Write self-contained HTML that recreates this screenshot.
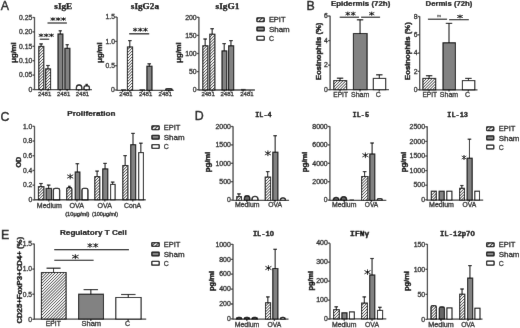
<!DOCTYPE html>
<html><head><meta charset="utf-8"><style>
html,body{margin:0;padding:0;background:#fff;}
body{width:520px;height:328px;overflow:hidden;}
svg{display:block;will-change:transform;}
</style></head><body>
<svg xmlns="http://www.w3.org/2000/svg" width="520" height="328" viewBox="0 0 520 328">
<defs>
<pattern id="hatch" patternUnits="userSpaceOnUse" width="2.05" height="2.05" patternTransform="rotate(45)">
<rect width="2.05" height="2.05" fill="#fbfbfb"/><rect x="0" y="0" width="0.7" height="2.05" fill="#262626"/>
</pattern>
<pattern id="hatchL" patternUnits="userSpaceOnUse" width="2.6" height="2.6" patternTransform="rotate(45)">
<rect width="2.6" height="2.6" fill="#fff"/><rect x="0" y="0" width="1.1" height="2.6" fill="#333"/>
</pattern>
</defs>
<filter id="soft" x="0" y="0" width="520" height="328" filterUnits="userSpaceOnUse"><feConvolveMatrix order="3" kernelMatrix="0.00276 0.04704 0.00276 0.04704 0.80077 0.04704 0.00276 0.04704 0.00276" edgeMode="duplicate" preserveAlpha="true"/></filter>
<rect width="520" height="328" fill="#fff"/>
<g filter="url(#soft)">
<rect width="520" height="328" fill="#fff"/>
<text x="0.8" y="10.1" font-size="12.4" text-anchor="start" font-weight="normal" font-family='"Liberation Sans", sans-serif' fill="#111" stroke="#111" stroke-width="0.35">A</text>
<text x="306.5" y="10.1" font-size="12.4" text-anchor="start" font-weight="normal" font-family='"Liberation Sans", sans-serif' fill="#111" stroke="#111" stroke-width="0.35">B</text>
<text x="0.6" y="120.6" font-size="12.4" text-anchor="start" font-weight="normal" font-family='"Liberation Sans", sans-serif' fill="#111" stroke="#111" stroke-width="0.35">C</text>
<text x="194.8" y="120.2" font-size="12.4" text-anchor="start" font-weight="normal" font-family='"Liberation Sans", sans-serif' fill="#111" stroke="#111" stroke-width="0.35">D</text>
<text x="1.0" y="238.8" font-size="12.4" text-anchor="start" font-weight="normal" font-family='"Liberation Sans", sans-serif' fill="#111" stroke="#111" stroke-width="0.35">E</text>
<line x1="34.5" y1="90.14999999999999" x2="34.5" y2="17.1" stroke="#404040" stroke-width="1.3"/>
<line x1="32.5" y1="89.5" x2="34.5" y2="89.5" stroke="#404040" stroke-width="1.3"/>
<text x="32.3" y="91.768" font-size="6.3" text-anchor="end" font-weight="normal" font-family='"Liberation Sans", sans-serif' fill="#262626" stroke="#262626" stroke-width="0.3" textLength="3.85" lengthAdjust="spacingAndGlyphs">0</text>
<line x1="32.5" y1="75.1" x2="34.5" y2="75.1" stroke="#404040" stroke-width="1.3"/>
<text x="32.3" y="77.368" font-size="6.3" text-anchor="end" font-weight="normal" font-family='"Liberation Sans", sans-serif' fill="#262626" stroke="#262626" stroke-width="0.3" textLength="13.25" lengthAdjust="spacingAndGlyphs">0.05</text>
<line x1="32.5" y1="60.7" x2="34.5" y2="60.7" stroke="#404040" stroke-width="1.3"/>
<text x="32.3" y="62.968" font-size="6.3" text-anchor="end" font-weight="normal" font-family='"Liberation Sans", sans-serif' fill="#262626" stroke="#262626" stroke-width="0.3" textLength="13.25" lengthAdjust="spacingAndGlyphs">0.10</text>
<line x1="32.5" y1="46.3" x2="34.5" y2="46.3" stroke="#404040" stroke-width="1.3"/>
<text x="32.3" y="48.568" font-size="6.3" text-anchor="end" font-weight="normal" font-family='"Liberation Sans", sans-serif' fill="#262626" stroke="#262626" stroke-width="0.3" textLength="13.25" lengthAdjust="spacingAndGlyphs">0.15</text>
<line x1="32.5" y1="31.9" x2="34.5" y2="31.9" stroke="#404040" stroke-width="1.3"/>
<text x="32.3" y="34.168" font-size="6.3" text-anchor="end" font-weight="normal" font-family='"Liberation Sans", sans-serif' fill="#262626" stroke="#262626" stroke-width="0.3" textLength="13.25" lengthAdjust="spacingAndGlyphs">0.20</text>
<line x1="32.5" y1="17.5" x2="34.5" y2="17.5" stroke="#404040" stroke-width="1.3"/>
<text x="32.3" y="19.768" font-size="6.3" text-anchor="end" font-weight="normal" font-family='"Liberation Sans", sans-serif' fill="#262626" stroke="#262626" stroke-width="0.3" textLength="13.25" lengthAdjust="spacingAndGlyphs">0.25</text>
<line x1="34.5" y1="89.55" x2="92" y2="89.55" stroke="#404040" stroke-width="1.3"/>
<line x1="41.1" y1="89.55" x2="41.1" y2="91.35" stroke="#404040" stroke-width="1.3"/>
<line x1="47.95" y1="89.55" x2="47.95" y2="91.35" stroke="#404040" stroke-width="1.3"/>
<line x1="60.15" y1="89.55" x2="60.15" y2="91.35" stroke="#404040" stroke-width="1.3"/>
<line x1="67.15" y1="89.55" x2="67.15" y2="91.35" stroke="#404040" stroke-width="1.3"/>
<line x1="78.65" y1="89.55" x2="78.65" y2="91.35" stroke="#404040" stroke-width="1.3"/>
<line x1="86.15" y1="89.55" x2="86.15" y2="91.35" stroke="#404040" stroke-width="1.3"/>
<line x1="41.099999999999994" y1="46.4" x2="41.099999999999994" y2="43.9" stroke="#000" stroke-width="1.0"/>
<line x1="39.3" y1="43.9" x2="42.89999999999999" y2="43.9" stroke="#000" stroke-width="1.15"/>
<rect x="38.8" y="46.4" width="5.00" height="43.15" fill="url(#hatch)" stroke="#000" stroke-width="1.05"/>
<line x1="47.95" y1="68.9" x2="47.95" y2="65.5" stroke="#000" stroke-width="1.0"/>
<line x1="46.150000000000006" y1="65.5" x2="49.75" y2="65.5" stroke="#000" stroke-width="1.15"/>
<rect x="45.699999999999996" y="68.9" width="4.90" height="20.65" fill="url(#hatch)" stroke="#000" stroke-width="1.05"/>
<line x1="60.25" y1="34.0" x2="60.25" y2="30.8" stroke="#000" stroke-width="1.0"/>
<line x1="58.65" y1="30.8" x2="61.85" y2="30.8" stroke="#000" stroke-width="1.15"/>
<rect x="58.0" y="34.0" width="4.90" height="55.55" fill="#828282" stroke="#000" stroke-width="1.05"/>
<line x1="67.2" y1="48.3" x2="67.2" y2="44.7" stroke="#000" stroke-width="1.0"/>
<line x1="65.60000000000001" y1="44.7" x2="68.8" y2="44.7" stroke="#000" stroke-width="1.15"/>
<rect x="64.9" y="48.3" width="5.00" height="41.25" fill="#828282" stroke="#000" stroke-width="1.05"/>
<path d="M76.40 89.55V87.70Q76.40 85.00 79.10 85.00H79.10Q81.80 85.00 81.80 87.70V89.55Z" fill="#ffffff" stroke="#000" stroke-width="1.3"/>
<line x1="86.7" y1="86.0" x2="86.7" y2="84.4" stroke="#000" stroke-width="1.0"/>
<line x1="85.5" y1="84.4" x2="87.9" y2="84.4" stroke="#000" stroke-width="1.15"/>
<path d="M84.00 89.55V87.52Q84.00 85.90 85.62 85.90H87.78Q89.40 85.90 89.40 87.52V89.55Z" fill="#ffffff" stroke="#000" stroke-width="1.3"/>
<text x="44.6" y="96.4" font-size="6.2" text-anchor="middle" font-weight="normal" font-family='"Liberation Sans", sans-serif' fill="#262626" stroke="#262626" stroke-width="0.3" textLength="13.4" lengthAdjust="spacingAndGlyphs">2481</text>
<text x="63.6" y="96.4" font-size="6.2" text-anchor="middle" font-weight="normal" font-family='"Liberation Sans", sans-serif' fill="#262626" stroke="#262626" stroke-width="0.3" textLength="13.4" lengthAdjust="spacingAndGlyphs">2481</text>
<text x="82.4" y="96.4" font-size="6.2" text-anchor="middle" font-weight="normal" font-family='"Liberation Sans", sans-serif' fill="#262626" stroke="#262626" stroke-width="0.3" textLength="13.4" lengthAdjust="spacingAndGlyphs">2481</text>
<text x="63.3" y="8.7" font-size="7.2" text-anchor="middle" font-weight="bold" font-family='"Liberation Serif", serif' fill="#000" stroke="#000" stroke-width="0.25" textLength="18.0" lengthAdjust="spacingAndGlyphs">sIgE</text>
<text x="15.7" y="52.5" font-size="7.5" text-anchor="middle" font-weight="bold" font-family='"Liberation Sans", sans-serif' fill="#000" stroke="#000" stroke-width="0.38" textLength="20.5" lengthAdjust="spacingAndGlyphs" transform="rotate(-90 15.7 52.5)">μg/ml</text>
<line x1="39.8" y1="39.2" x2="49.2" y2="39.2" stroke="#000" stroke-width="1.05"/>
<path d="M41.05 33.50V37.10M38.77 34.22L43.33 36.38M38.77 36.38L43.33 34.22M46.25 33.50V37.10M43.97 34.22L48.53 36.38M43.97 36.38L48.53 34.22M51.45 33.50V37.10M49.17 34.22L53.73 36.38M49.17 36.38L53.73 34.22" stroke="#111" stroke-width="1.0" fill="none"/>
<line x1="47.5" y1="23" x2="66.9" y2="23" stroke="#000" stroke-width="1.05"/>
<path d="M52.90 17.30V20.90M50.58 18.02L55.22 20.18M50.58 20.18L55.22 18.02M58.20 17.30V20.90M55.88 18.02L60.52 20.18M55.88 20.18L60.52 18.02M63.50 17.30V20.90M61.18 18.02L65.82 20.18M61.18 20.18L65.82 18.02" stroke="#111" stroke-width="1.0" fill="none"/>
<line x1="117.1" y1="90.89999999999999" x2="117.1" y2="16.9" stroke="#404040" stroke-width="1.3"/>
<line x1="115.1" y1="90.0" x2="117.1" y2="90.0" stroke="#404040" stroke-width="1.3"/>
<text x="114.89999999999999" y="92.268" font-size="6.3" text-anchor="end" font-weight="normal" font-family='"Liberation Sans", sans-serif' fill="#262626" stroke="#262626" stroke-width="0.3" textLength="3.85" lengthAdjust="spacingAndGlyphs">0</text>
<line x1="115.1" y1="65.7" x2="117.1" y2="65.7" stroke="#404040" stroke-width="1.3"/>
<text x="114.89999999999999" y="67.968" font-size="6.3" text-anchor="end" font-weight="normal" font-family='"Liberation Sans", sans-serif' fill="#262626" stroke="#262626" stroke-width="0.3" textLength="9.4" lengthAdjust="spacingAndGlyphs">0.5</text>
<line x1="115.1" y1="41.4" x2="117.1" y2="41.4" stroke="#404040" stroke-width="1.3"/>
<text x="114.89999999999999" y="43.668" font-size="6.3" text-anchor="end" font-weight="normal" font-family='"Liberation Sans", sans-serif' fill="#262626" stroke="#262626" stroke-width="0.3" textLength="9.4" lengthAdjust="spacingAndGlyphs">1.0</text>
<line x1="115.1" y1="17.099999999999994" x2="117.1" y2="17.099999999999994" stroke="#404040" stroke-width="1.3"/>
<text x="114.89999999999999" y="19.367999999999995" font-size="6.3" text-anchor="end" font-weight="normal" font-family='"Liberation Sans", sans-serif' fill="#262626" stroke="#262626" stroke-width="0.3" textLength="9.4" lengthAdjust="spacingAndGlyphs">1.5</text>
<line x1="117.1" y1="90.3" x2="173.8" y2="90.3" stroke="#404040" stroke-width="1.3"/>
<line x1="122.6" y1="90.3" x2="122.6" y2="92.1" stroke="#404040" stroke-width="1.3"/>
<line x1="129.8" y1="90.3" x2="129.8" y2="92.1" stroke="#404040" stroke-width="1.3"/>
<line x1="142.2" y1="90.3" x2="142.2" y2="92.1" stroke="#404040" stroke-width="1.3"/>
<line x1="149.25" y1="90.3" x2="149.25" y2="92.1" stroke="#404040" stroke-width="1.3"/>
<line x1="161.8" y1="90.3" x2="161.8" y2="92.1" stroke="#404040" stroke-width="1.3"/>
<line x1="168.8" y1="90.3" x2="168.8" y2="92.1" stroke="#404040" stroke-width="1.3"/>
<line x1="121" y1="90.0" x2="126" y2="90.0" stroke="#111" stroke-width="1.4"/>
<line x1="129.8" y1="47.0" x2="129.8" y2="40.6" stroke="#000" stroke-width="1.0"/>
<line x1="128.0" y1="40.6" x2="131.60000000000002" y2="40.6" stroke="#000" stroke-width="1.15"/>
<rect x="127.4" y="47.0" width="5.20" height="43.30" fill="url(#hatch)" stroke="#000" stroke-width="1.05"/>
<line x1="139.5" y1="90.0" x2="145" y2="90.0" stroke="#111" stroke-width="1.4"/>
<line x1="149.25" y1="66.2" x2="149.25" y2="63.8" stroke="#000" stroke-width="1.0"/>
<line x1="147.45" y1="63.8" x2="151.05" y2="63.8" stroke="#000" stroke-width="1.15"/>
<rect x="146.9" y="66.2" width="5.10" height="24.10" fill="#828282" stroke="#000" stroke-width="1.05"/>
<path d="M165.40 90.30V90.30Q165.40 88.50 167.20 88.50H170.60Q172.40 88.50 172.40 90.30V90.30Z" fill="#666" stroke="#000" stroke-width="1.1"/>
<text x="126.0" y="96.4" font-size="6.2" text-anchor="middle" font-weight="normal" font-family='"Liberation Sans", sans-serif' fill="#262626" stroke="#262626" stroke-width="0.3" textLength="13.4" lengthAdjust="spacingAndGlyphs">2481</text>
<text x="145.6" y="96.4" font-size="6.2" text-anchor="middle" font-weight="normal" font-family='"Liberation Sans", sans-serif' fill="#262626" stroke="#262626" stroke-width="0.3" textLength="13.4" lengthAdjust="spacingAndGlyphs">2481</text>
<text x="165.3" y="96.4" font-size="6.2" text-anchor="middle" font-weight="normal" font-family='"Liberation Sans", sans-serif' fill="#262626" stroke="#262626" stroke-width="0.3" textLength="13.4" lengthAdjust="spacingAndGlyphs">2481</text>
<text x="144.9" y="8.7" font-size="7.2" text-anchor="middle" font-weight="bold" font-family='"Liberation Serif", serif' fill="#000" stroke="#000" stroke-width="0.25" textLength="28.2" lengthAdjust="spacingAndGlyphs">sIgG2a</text>
<text x="101.8" y="52.5" font-size="7.5" text-anchor="middle" font-weight="bold" font-family='"Liberation Sans", sans-serif' fill="#000" stroke="#000" stroke-width="0.38" textLength="20.5" lengthAdjust="spacingAndGlyphs" transform="rotate(-90 101.8 52.5)">μg/ml</text>
<line x1="129.2" y1="33.8" x2="149.2" y2="33.8" stroke="#000" stroke-width="1.2"/>
<path d="M135.15 27.70V31.70M132.96 28.50L137.34 30.90M132.96 30.90L137.34 28.50M140.30 27.70V31.70M138.11 28.50L142.49 30.90M138.11 30.90L142.49 28.50M145.45 27.70V31.70M143.26 28.50L147.64 30.90M143.26 30.90L147.64 28.50" stroke="#111" stroke-width="1.0" fill="none"/>
<line x1="198.9" y1="90.6" x2="198.9" y2="17.1" stroke="#404040" stroke-width="1.3"/>
<line x1="196.9" y1="89.7" x2="198.9" y2="89.7" stroke="#404040" stroke-width="1.3"/>
<text x="196.70000000000002" y="91.968" font-size="6.3" text-anchor="end" font-weight="normal" font-family='"Liberation Sans", sans-serif' fill="#262626" stroke="#262626" stroke-width="0.3" textLength="3.85" lengthAdjust="spacingAndGlyphs">0</text>
<line x1="196.9" y1="71.6" x2="198.9" y2="71.6" stroke="#404040" stroke-width="1.3"/>
<text x="196.70000000000002" y="73.868" font-size="6.3" text-anchor="end" font-weight="normal" font-family='"Liberation Sans", sans-serif' fill="#262626" stroke="#262626" stroke-width="0.3" textLength="7.7" lengthAdjust="spacingAndGlyphs">50</text>
<line x1="196.9" y1="53.5" x2="198.9" y2="53.5" stroke="#404040" stroke-width="1.3"/>
<text x="196.70000000000002" y="55.768" font-size="6.3" text-anchor="end" font-weight="normal" font-family='"Liberation Sans", sans-serif' fill="#262626" stroke="#262626" stroke-width="0.3" textLength="11.55" lengthAdjust="spacingAndGlyphs">100</text>
<line x1="196.9" y1="35.4" x2="198.9" y2="35.4" stroke="#404040" stroke-width="1.3"/>
<text x="196.70000000000002" y="37.668" font-size="6.3" text-anchor="end" font-weight="normal" font-family='"Liberation Sans", sans-serif' fill="#262626" stroke="#262626" stroke-width="0.3" textLength="11.55" lengthAdjust="spacingAndGlyphs">150</text>
<line x1="196.9" y1="17.299999999999997" x2="198.9" y2="17.299999999999997" stroke="#404040" stroke-width="1.3"/>
<text x="196.70000000000002" y="19.567999999999998" font-size="6.3" text-anchor="end" font-weight="normal" font-family='"Liberation Sans", sans-serif' fill="#262626" stroke="#262626" stroke-width="0.3" textLength="11.55" lengthAdjust="spacingAndGlyphs">200</text>
<line x1="198.9" y1="90.0" x2="254.9" y2="90.0" stroke="#404040" stroke-width="1.3"/>
<line x1="205.15" y1="90.0" x2="205.15" y2="91.8" stroke="#404040" stroke-width="1.3"/>
<line x1="212.15" y1="90.0" x2="212.15" y2="91.8" stroke="#404040" stroke-width="1.3"/>
<line x1="224.2" y1="90.0" x2="224.2" y2="91.8" stroke="#404040" stroke-width="1.3"/>
<line x1="230.95" y1="90.0" x2="230.95" y2="91.8" stroke="#404040" stroke-width="1.3"/>
<line x1="243.1" y1="90.0" x2="243.1" y2="91.8" stroke="#404040" stroke-width="1.3"/>
<line x1="250.1" y1="90.0" x2="250.1" y2="91.8" stroke="#404040" stroke-width="1.3"/>
<line x1="205.15" y1="45.8" x2="205.15" y2="39.0" stroke="#000" stroke-width="1.0"/>
<line x1="203.35" y1="39.0" x2="206.95000000000002" y2="39.0" stroke="#000" stroke-width="1.15"/>
<rect x="202.8" y="45.8" width="5.10" height="44.20" fill="url(#hatch)" stroke="#000" stroke-width="1.05"/>
<line x1="212.15" y1="34.2" x2="212.15" y2="28.7" stroke="#000" stroke-width="1.0"/>
<line x1="210.35" y1="28.7" x2="213.95000000000002" y2="28.7" stroke="#000" stroke-width="1.15"/>
<rect x="209.8" y="34.2" width="5.10" height="55.80" fill="url(#hatch)" stroke="#000" stroke-width="1.05"/>
<line x1="224.2" y1="50.9" x2="224.2" y2="43.6" stroke="#000" stroke-width="1.0"/>
<line x1="222.39999999999998" y1="43.6" x2="226.0" y2="43.6" stroke="#000" stroke-width="1.15"/>
<rect x="222.0" y="50.9" width="4.80" height="39.10" fill="#828282" stroke="#000" stroke-width="1.05"/>
<line x1="230.95" y1="45.8" x2="230.95" y2="40.6" stroke="#000" stroke-width="1.0"/>
<line x1="229.14999999999998" y1="40.6" x2="232.75" y2="40.6" stroke="#000" stroke-width="1.15"/>
<rect x="228.6" y="45.8" width="5.10" height="44.20" fill="#828282" stroke="#000" stroke-width="1.05"/>
<line x1="241" y1="89.7" x2="245.6" y2="89.7" stroke="#111" stroke-width="1.6"/>
<text x="208.1" y="96.4" font-size="6.2" text-anchor="middle" font-weight="normal" font-family='"Liberation Sans", sans-serif' fill="#262626" stroke="#262626" stroke-width="0.3" textLength="13.4" lengthAdjust="spacingAndGlyphs">2481</text>
<text x="227.2" y="96.4" font-size="6.2" text-anchor="middle" font-weight="normal" font-family='"Liberation Sans", sans-serif' fill="#262626" stroke="#262626" stroke-width="0.3" textLength="13.4" lengthAdjust="spacingAndGlyphs">2481</text>
<text x="246.9" y="96.4" font-size="6.2" text-anchor="middle" font-weight="normal" font-family='"Liberation Sans", sans-serif' fill="#262626" stroke="#262626" stroke-width="0.3" textLength="13.4" lengthAdjust="spacingAndGlyphs">2481</text>
<text x="227.5" y="8.7" font-size="7.2" text-anchor="middle" font-weight="bold" font-family='"Liberation Serif", serif' fill="#000" stroke="#000" stroke-width="0.25" textLength="24.0" lengthAdjust="spacingAndGlyphs">sIgG1</text>
<text x="181.2" y="52.5" font-size="7.5" text-anchor="middle" font-weight="bold" font-family='"Liberation Sans", sans-serif' fill="#000" stroke="#000" stroke-width="0.38" textLength="20.5" lengthAdjust="spacingAndGlyphs" transform="rotate(-90 181.2 52.5)">μg/ml</text>
<rect x="256.90" y="17.75" width="7.40" height="3.8" rx="0.6" fill="url(#hatchL)" stroke="#000" stroke-width="1.25"/>
<text x="268.9" y="22.299999999999997" font-size="7.5" text-anchor="start" font-weight="normal" font-family='"Liberation Sans", sans-serif' fill="#1a1a1a" stroke="#1a1a1a" stroke-width="0.3" textLength="16.6" lengthAdjust="spacingAndGlyphs">EPIT</text>
<rect x="256.90" y="27.05" width="7.40" height="3.8" rx="0.6" fill="#828282" stroke="#000" stroke-width="1.25"/>
<text x="268.9" y="31.599999999999998" font-size="7.5" text-anchor="start" font-weight="normal" font-family='"Liberation Sans", sans-serif' fill="#1a1a1a" stroke="#1a1a1a" stroke-width="0.3" textLength="20.8" lengthAdjust="spacingAndGlyphs">Sham</text>
<rect x="256.90" y="36.35" width="7.40" height="3.8" rx="0.6" fill="#ffffff" stroke="#000" stroke-width="1.25"/>
<text x="268.9" y="40.9" font-size="7.5" text-anchor="start" font-weight="normal" font-family='"Liberation Sans", sans-serif' fill="#1a1a1a" stroke="#1a1a1a" stroke-width="0.3" textLength="5.0" lengthAdjust="spacingAndGlyphs">C</text>
<line x1="330.1" y1="90.25" x2="330.1" y2="15.8" stroke="#404040" stroke-width="1.3"/>
<line x1="328.1" y1="89.7" x2="330.1" y2="89.7" stroke="#404040" stroke-width="1.3"/>
<text x="327.90000000000003" y="91.968" font-size="6.3" text-anchor="end" font-weight="normal" font-family='"Liberation Sans", sans-serif' fill="#262626" stroke="#262626" stroke-width="0.3" textLength="3.85" lengthAdjust="spacingAndGlyphs">0</text>
<line x1="328.1" y1="65.15" x2="330.1" y2="65.15" stroke="#404040" stroke-width="1.3"/>
<text x="327.90000000000003" y="67.418" font-size="6.3" text-anchor="end" font-weight="normal" font-family='"Liberation Sans", sans-serif' fill="#262626" stroke="#262626" stroke-width="0.3" textLength="3.85" lengthAdjust="spacingAndGlyphs">2</text>
<line x1="328.1" y1="40.6" x2="330.1" y2="40.6" stroke="#404040" stroke-width="1.3"/>
<text x="327.90000000000003" y="42.868" font-size="6.3" text-anchor="end" font-weight="normal" font-family='"Liberation Sans", sans-serif' fill="#262626" stroke="#262626" stroke-width="0.3" textLength="3.85" lengthAdjust="spacingAndGlyphs">4</text>
<line x1="328.1" y1="16.049999999999997" x2="330.1" y2="16.049999999999997" stroke="#404040" stroke-width="1.3"/>
<text x="327.90000000000003" y="18.317999999999998" font-size="6.3" text-anchor="end" font-weight="normal" font-family='"Liberation Sans", sans-serif' fill="#262626" stroke="#262626" stroke-width="0.3" textLength="3.85" lengthAdjust="spacingAndGlyphs">6</text>
<line x1="330.1" y1="89.65" x2="389.0" y2="89.65" stroke="#404040" stroke-width="1.3"/>
<line x1="340.05" y1="89.65" x2="340.05" y2="91.45" stroke="#404040" stroke-width="1.3"/>
<line x1="360.05" y1="89.65" x2="360.05" y2="91.45" stroke="#404040" stroke-width="1.3"/>
<line x1="379.3" y1="89.65" x2="379.3" y2="91.45" stroke="#404040" stroke-width="1.3"/>
<line x1="340.04999999999995" y1="80.6" x2="340.04999999999995" y2="78.2" stroke="#000" stroke-width="1.0"/>
<line x1="336.84999999999997" y1="78.2" x2="343.24999999999994" y2="78.2" stroke="#000" stroke-width="1.15"/>
<rect x="333.79999999999995" y="80.6" width="12.90" height="9.05" fill="url(#hatch)" stroke="#000" stroke-width="1.05"/>
<line x1="360.05" y1="33.5" x2="360.05" y2="19.8" stroke="#000" stroke-width="1.0"/>
<line x1="356.85" y1="19.8" x2="363.25" y2="19.8" stroke="#000" stroke-width="1.15"/>
<rect x="353.4" y="33.5" width="13.70" height="56.15" fill="#828282" stroke="#000" stroke-width="1.05"/>
<line x1="379.29999999999995" y1="78.4" x2="379.29999999999995" y2="74.8" stroke="#000" stroke-width="1.0"/>
<line x1="376.09999999999997" y1="74.8" x2="382.49999999999994" y2="74.8" stroke="#000" stroke-width="1.15"/>
<rect x="373.29999999999995" y="78.4" width="12.40" height="11.25" fill="#ffffff" stroke="#000" stroke-width="1.05"/>
<text x="340.6" y="97.2" font-size="6.6" text-anchor="middle" font-weight="normal" font-family='"Liberation Sans", sans-serif' fill="#262626" stroke="#262626" stroke-width="0.3" textLength="14.6" lengthAdjust="spacingAndGlyphs">EPIT</text>
<text x="360.2" y="97.2" font-size="7.0" text-anchor="middle" font-weight="normal" font-family='"Liberation Sans", sans-serif' fill="#262626" stroke="#262626" stroke-width="0.3" textLength="18.3" lengthAdjust="spacingAndGlyphs">Sham</text>
<text x="378.4" y="97.2" font-size="7.0" text-anchor="middle" font-weight="normal" font-family='"Liberation Sans", sans-serif' fill="#262626" stroke="#262626" stroke-width="0.3">C</text>
<text x="360.65" y="5.9" font-size="6.9" text-anchor="middle" font-weight="bold" font-family='"Liberation Sans", sans-serif' fill="#000" stroke="#000" stroke-width="0.22" textLength="59.3" lengthAdjust="spacingAndGlyphs">Epidermis (72h)</text>
<text x="321.0" y="51.3" font-size="7.5" text-anchor="middle" font-weight="bold" font-family='"Liberation Sans", sans-serif' fill="#000" stroke="#000" stroke-width="0.38" textLength="57.2" lengthAdjust="spacingAndGlyphs" transform="rotate(-90 321.0 51.3)">Eosinophils (%)</text>
<line x1="339.7" y1="17.2" x2="359.1" y2="17.2" stroke="#000" stroke-width="1.05"/>
<path d="M347.80 11.65V15.75M345.52 12.47L350.08 14.93M345.52 14.93L350.08 12.47M353.20 11.65V15.75M350.92 12.47L355.48 14.93M350.92 14.93L355.48 12.47" stroke="#111" stroke-width="1.0" fill="none"/>
<line x1="361.1" y1="17.2" x2="380.1" y2="17.2" stroke="#000" stroke-width="1.05"/>
<path d="M371.70 11.65V15.75M369.10 12.47L374.30 14.93M369.10 14.93L374.30 12.47" stroke="#111" stroke-width="1.0" fill="none"/>
<line x1="419.7" y1="90.39999999999999" x2="419.7" y2="16.3" stroke="#404040" stroke-width="1.3"/>
<line x1="417.7" y1="89.7" x2="419.7" y2="89.7" stroke="#404040" stroke-width="1.3"/>
<text x="417.5" y="91.968" font-size="6.3" text-anchor="end" font-weight="normal" font-family='"Liberation Sans", sans-serif' fill="#262626" stroke="#262626" stroke-width="0.3" textLength="3.85" lengthAdjust="spacingAndGlyphs">0</text>
<line x1="417.7" y1="71.4" x2="419.7" y2="71.4" stroke="#404040" stroke-width="1.3"/>
<text x="417.5" y="73.668" font-size="6.3" text-anchor="end" font-weight="normal" font-family='"Liberation Sans", sans-serif' fill="#262626" stroke="#262626" stroke-width="0.3" textLength="3.85" lengthAdjust="spacingAndGlyphs">2</text>
<line x1="417.7" y1="53.1" x2="419.7" y2="53.1" stroke="#404040" stroke-width="1.3"/>
<text x="417.5" y="55.368" font-size="6.3" text-anchor="end" font-weight="normal" font-family='"Liberation Sans", sans-serif' fill="#262626" stroke="#262626" stroke-width="0.3" textLength="3.85" lengthAdjust="spacingAndGlyphs">4</text>
<line x1="417.7" y1="34.8" x2="419.7" y2="34.8" stroke="#404040" stroke-width="1.3"/>
<text x="417.5" y="37.068" font-size="6.3" text-anchor="end" font-weight="normal" font-family='"Liberation Sans", sans-serif' fill="#262626" stroke="#262626" stroke-width="0.3" textLength="3.85" lengthAdjust="spacingAndGlyphs">6</text>
<line x1="417.7" y1="16.5" x2="419.7" y2="16.5" stroke="#404040" stroke-width="1.3"/>
<text x="417.5" y="18.768" font-size="6.3" text-anchor="end" font-weight="normal" font-family='"Liberation Sans", sans-serif' fill="#262626" stroke="#262626" stroke-width="0.3" textLength="3.85" lengthAdjust="spacingAndGlyphs">8</text>
<line x1="419.7" y1="89.8" x2="477.5" y2="89.8" stroke="#404040" stroke-width="1.3"/>
<line x1="429.1" y1="89.8" x2="429.1" y2="91.6" stroke="#404040" stroke-width="1.3"/>
<line x1="449.0" y1="89.8" x2="449.0" y2="91.6" stroke="#404040" stroke-width="1.3"/>
<line x1="468.4" y1="89.8" x2="468.4" y2="91.6" stroke="#404040" stroke-width="1.3"/>
<line x1="429.1" y1="78.4" x2="429.1" y2="75.7" stroke="#000" stroke-width="1.0"/>
<line x1="425.90000000000003" y1="75.7" x2="432.3" y2="75.7" stroke="#000" stroke-width="1.15"/>
<rect x="422.9" y="78.4" width="12.80" height="11.40" fill="url(#hatch)" stroke="#000" stroke-width="1.05"/>
<line x1="449.0" y1="42.8" x2="449.0" y2="23.4" stroke="#000" stroke-width="1.0"/>
<line x1="445.8" y1="23.4" x2="452.2" y2="23.4" stroke="#000" stroke-width="1.15"/>
<rect x="443.0" y="42.8" width="12.40" height="47.00" fill="#828282" stroke="#000" stroke-width="1.05"/>
<line x1="468.4" y1="80.6" x2="468.4" y2="78.4" stroke="#000" stroke-width="1.0"/>
<line x1="465.2" y1="78.4" x2="471.59999999999997" y2="78.4" stroke="#000" stroke-width="1.15"/>
<rect x="462.4" y="80.6" width="12.40" height="9.20" fill="#ffffff" stroke="#000" stroke-width="1.05"/>
<text x="429.7" y="97.2" font-size="6.6" text-anchor="middle" font-weight="normal" font-family='"Liberation Sans", sans-serif' fill="#262626" stroke="#262626" stroke-width="0.3" textLength="14.6" lengthAdjust="spacingAndGlyphs">EPIT</text>
<text x="449.0" y="97.2" font-size="7.0" text-anchor="middle" font-weight="normal" font-family='"Liberation Sans", sans-serif' fill="#262626" stroke="#262626" stroke-width="0.3" textLength="18.3" lengthAdjust="spacingAndGlyphs">Sham</text>
<text x="467.6" y="97.2" font-size="7.0" text-anchor="middle" font-weight="normal" font-family='"Liberation Sans", sans-serif' fill="#262626" stroke="#262626" stroke-width="0.3">C</text>
<text x="449.0" y="6.1" font-size="6.9" text-anchor="middle" font-weight="bold" font-family='"Liberation Sans", sans-serif' fill="#000" stroke="#000" stroke-width="0.22" textLength="46.8" lengthAdjust="spacingAndGlyphs">Dermis (72h)</text>
<text x="410.2" y="51.1" font-size="7.5" text-anchor="middle" font-weight="bold" font-family='"Liberation Sans", sans-serif' fill="#000" stroke="#000" stroke-width="0.38" textLength="57.6" lengthAdjust="spacingAndGlyphs" transform="rotate(-90 410.2 51.1)">Eosinophils (%)</text>
<line x1="427.9" y1="19.2" x2="447.1" y2="19.2" stroke="#000" stroke-width="1.05"/>
<text x="439.2" y="16.6" font-size="3.6" text-anchor="middle" font-weight="normal" font-family='"Liberation Sans", sans-serif' fill="#666" stroke="#666" stroke-width="0.3">ns</text>
<line x1="449.1" y1="19.7" x2="468.8" y2="19.7" stroke="#000" stroke-width="1.05"/>
<path d="M460.00 14.60V18.40M457.20 15.36L462.80 17.64M457.20 17.64L462.80 15.36" stroke="#111" stroke-width="1.0" fill="none"/>
<line x1="34.5" y1="200.35" x2="34.5" y2="126.2" stroke="#404040" stroke-width="1.3"/>
<line x1="32.5" y1="199.9" x2="34.5" y2="199.9" stroke="#404040" stroke-width="1.3"/>
<text x="32.3" y="202.168" font-size="6.3" text-anchor="end" font-weight="normal" font-family='"Liberation Sans", sans-serif' fill="#262626" stroke="#262626" stroke-width="0.3" textLength="3.85" lengthAdjust="spacingAndGlyphs">0</text>
<line x1="32.5" y1="185.18" x2="34.5" y2="185.18" stroke="#404040" stroke-width="1.3"/>
<text x="32.3" y="187.448" font-size="6.3" text-anchor="end" font-weight="normal" font-family='"Liberation Sans", sans-serif' fill="#262626" stroke="#262626" stroke-width="0.3" textLength="9.4" lengthAdjust="spacingAndGlyphs">0.2</text>
<line x1="32.5" y1="170.46" x2="34.5" y2="170.46" stroke="#404040" stroke-width="1.3"/>
<text x="32.3" y="172.728" font-size="6.3" text-anchor="end" font-weight="normal" font-family='"Liberation Sans", sans-serif' fill="#262626" stroke="#262626" stroke-width="0.3" textLength="9.4" lengthAdjust="spacingAndGlyphs">0.4</text>
<line x1="32.5" y1="155.74" x2="34.5" y2="155.74" stroke="#404040" stroke-width="1.3"/>
<text x="32.3" y="158.008" font-size="6.3" text-anchor="end" font-weight="normal" font-family='"Liberation Sans", sans-serif' fill="#262626" stroke="#262626" stroke-width="0.3" textLength="9.4" lengthAdjust="spacingAndGlyphs">0.6</text>
<line x1="32.5" y1="141.02" x2="34.5" y2="141.02" stroke="#404040" stroke-width="1.3"/>
<text x="32.3" y="143.288" font-size="6.3" text-anchor="end" font-weight="normal" font-family='"Liberation Sans", sans-serif' fill="#262626" stroke="#262626" stroke-width="0.3" textLength="9.4" lengthAdjust="spacingAndGlyphs">0.8</text>
<line x1="32.5" y1="126.29999999999998" x2="34.5" y2="126.29999999999998" stroke="#404040" stroke-width="1.3"/>
<text x="32.3" y="128.56799999999998" font-size="6.3" text-anchor="end" font-weight="normal" font-family='"Liberation Sans", sans-serif' fill="#262626" stroke="#262626" stroke-width="0.3" textLength="9.4" lengthAdjust="spacingAndGlyphs">1.0</text>
<line x1="34.5" y1="199.75" x2="145.7" y2="199.75" stroke="#404040" stroke-width="1.3"/>
<line x1="48.8" y1="199.75" x2="48.8" y2="201.55" stroke="#404040" stroke-width="1.3"/>
<line x1="77.0" y1="199.75" x2="77.0" y2="201.55" stroke="#404040" stroke-width="1.3"/>
<line x1="104.8" y1="199.75" x2="104.8" y2="201.55" stroke="#404040" stroke-width="1.3"/>
<line x1="132.8" y1="199.75" x2="132.8" y2="201.55" stroke="#404040" stroke-width="1.3"/>
<line x1="40.95" y1="186.6" x2="40.95" y2="183.5" stroke="#000" stroke-width="1.0"/>
<line x1="39.150000000000006" y1="183.5" x2="42.75" y2="183.5" stroke="#000" stroke-width="1.15"/>
<rect x="38.4" y="186.6" width="5.50" height="13.15" fill="url(#hatch)" stroke="#000" stroke-width="1.05"/>
<line x1="48.650000000000006" y1="188.4" x2="48.650000000000006" y2="185.1" stroke="#000" stroke-width="1.0"/>
<line x1="46.85000000000001" y1="185.1" x2="50.45" y2="185.1" stroke="#000" stroke-width="1.15"/>
<rect x="46.1" y="188.4" width="5.50" height="11.35" fill="#828282" stroke="#000" stroke-width="1.05"/>
<path d="M53.40 199.75V190.11Q53.40 188.40 55.10 188.40H57.90Q59.60 188.40 59.60 190.11V199.75Z" fill="#ffffff" stroke="#000" stroke-width="1.3"/>
<line x1="69.3" y1="188" x2="69.3" y2="186.3" stroke="#000" stroke-width="1.0"/>
<line x1="68.0" y1="186.3" x2="70.6" y2="186.3" stroke="#000" stroke-width="1.15"/>
<path d="M66.70 199.75V188.90Q66.70 187.60 68.00 187.60H70.60Q71.90 187.60 71.90 188.90V199.75Z" fill="url(#hatch)" stroke="#000" stroke-width="1.1"/>
<line x1="77.35" y1="172.0" x2="77.35" y2="163.7" stroke="#000" stroke-width="1.0"/>
<line x1="75.55" y1="163.7" x2="79.14999999999999" y2="163.7" stroke="#000" stroke-width="1.15"/>
<rect x="75.2" y="172.0" width="4.70" height="27.75" fill="#828282" stroke="#000" stroke-width="1.05"/>
<path d="M82.00 199.75V190.02Q82.00 188.40 83.62 188.40H86.28Q87.90 188.40 87.90 190.02V199.75Z" fill="#ffffff" stroke="#000" stroke-width="1.3"/>
<line x1="97.1" y1="176.6" x2="97.1" y2="171.1" stroke="#000" stroke-width="1.0"/>
<line x1="95.3" y1="171.1" x2="98.89999999999999" y2="171.1" stroke="#000" stroke-width="1.15"/>
<rect x="94.80000000000001" y="176.6" width="5.00" height="23.15" fill="url(#hatch)" stroke="#000" stroke-width="1.05"/>
<line x1="105.05" y1="168.9" x2="105.05" y2="163.4" stroke="#000" stroke-width="1.0"/>
<line x1="103.25" y1="163.4" x2="106.85" y2="163.4" stroke="#000" stroke-width="1.15"/>
<rect x="102.7" y="168.9" width="5.10" height="30.85" fill="#828282" stroke="#000" stroke-width="1.05"/>
<line x1="112.65" y1="184.4" x2="112.65" y2="182.1" stroke="#000" stroke-width="1.0"/>
<line x1="110.85000000000001" y1="182.1" x2="114.45" y2="182.1" stroke="#000" stroke-width="1.15"/>
<rect x="110.60000000000001" y="184.4" width="4.50" height="15.35" fill="#ffffff" stroke="#000" stroke-width="1.05"/>
<line x1="125.15" y1="165.5" x2="125.15" y2="155.6" stroke="#000" stroke-width="1.0"/>
<line x1="123.35000000000001" y1="155.6" x2="126.95" y2="155.6" stroke="#000" stroke-width="1.15"/>
<rect x="122.80000000000001" y="165.5" width="5.10" height="34.25" fill="url(#hatch)" stroke="#000" stroke-width="1.05"/>
<line x1="133.0" y1="144.7" x2="133.0" y2="133.4" stroke="#000" stroke-width="1.0"/>
<line x1="131.2" y1="133.4" x2="134.8" y2="133.4" stroke="#000" stroke-width="1.15"/>
<rect x="130.70000000000002" y="144.7" width="5.00" height="55.05" fill="#828282" stroke="#000" stroke-width="1.05"/>
<line x1="140.85000000000002" y1="152.6" x2="140.85000000000002" y2="143.2" stroke="#000" stroke-width="1.0"/>
<line x1="139.05" y1="143.2" x2="142.65000000000003" y2="143.2" stroke="#000" stroke-width="1.15"/>
<rect x="138.70000000000002" y="152.6" width="4.70" height="47.15" fill="#ffffff" stroke="#000" stroke-width="1.05"/>
<path d="M70.20 173.70V179.30M67.20 174.82L73.20 178.18M67.20 178.18L73.20 174.82" stroke="#111" stroke-width="1.0" fill="none"/>
<text x="49.3" y="207.6" font-size="6.9" text-anchor="middle" font-weight="normal" font-family='"Liberation Sans", sans-serif' fill="#262626" stroke="#262626" stroke-width="0.3" textLength="25.0" lengthAdjust="spacingAndGlyphs">Medium</text>
<text x="76.8" y="207.6" font-size="6.6" text-anchor="middle" font-weight="normal" font-family='"Liberation Sans", sans-serif' fill="#262626" stroke="#262626" stroke-width="0.3" textLength="14.6" lengthAdjust="spacingAndGlyphs">OVA</text>
<text x="104.8" y="207.6" font-size="6.6" text-anchor="middle" font-weight="normal" font-family='"Liberation Sans", sans-serif' fill="#262626" stroke="#262626" stroke-width="0.3" textLength="14.4" lengthAdjust="spacingAndGlyphs">OVA</text>
<text x="132.6" y="207.6" font-size="6.6" text-anchor="middle" font-weight="normal" font-family='"Liberation Sans", sans-serif' fill="#262626" stroke="#262626" stroke-width="0.3" textLength="17.3" lengthAdjust="spacingAndGlyphs">ConA</text>
<text x="77.3" y="215.6" font-size="4.6" text-anchor="middle" font-weight="normal" font-family='"Liberation Sans", sans-serif' fill="#262626" stroke="#262626" stroke-width="0.3" textLength="24.2" lengthAdjust="spacingAndGlyphs">(10μg/ml)</text>
<text x="105.0" y="215.6" font-size="4.6" text-anchor="middle" font-weight="normal" font-family='"Liberation Sans", sans-serif' fill="#262626" stroke="#262626" stroke-width="0.3" textLength="26.0" lengthAdjust="spacingAndGlyphs">(100μg/ml)</text>
<text x="91.35" y="116.2" font-size="7.1" text-anchor="middle" font-weight="bold" font-family='"Liberation Sans", sans-serif' fill="#000" stroke="#000" stroke-width="0.22" textLength="48.3" lengthAdjust="spacingAndGlyphs">Proliferation</text>
<text x="21.2" y="162.2" font-size="7.4" text-anchor="middle" font-weight="bold" font-family='"Liberation Sans", sans-serif' fill="#000" stroke="#000" stroke-width="0.38" textLength="10.8" lengthAdjust="spacingAndGlyphs" transform="rotate(-90 21.2 162.2)">OD</text>
<rect x="151.90" y="125.90" width="7.30" height="3.8" rx="0.6" fill="url(#hatchL)" stroke="#000" stroke-width="1.25"/>
<text x="163.8" y="130.45" font-size="7.5" text-anchor="start" font-weight="normal" font-family='"Liberation Sans", sans-serif' fill="#1a1a1a" stroke="#1a1a1a" stroke-width="0.3" textLength="16.6" lengthAdjust="spacingAndGlyphs">EPIT</text>
<rect x="151.90" y="135.27" width="7.30" height="3.8" rx="0.6" fill="#828282" stroke="#000" stroke-width="1.25"/>
<text x="163.8" y="139.82" font-size="7.5" text-anchor="start" font-weight="normal" font-family='"Liberation Sans", sans-serif' fill="#1a1a1a" stroke="#1a1a1a" stroke-width="0.3" textLength="20.8" lengthAdjust="spacingAndGlyphs">Sham</text>
<rect x="151.90" y="144.64" width="7.30" height="3.8" rx="0.6" fill="#ffffff" stroke="#000" stroke-width="1.25"/>
<text x="163.8" y="149.19" font-size="7.5" text-anchor="start" font-weight="normal" font-family='"Liberation Sans", sans-serif' fill="#1a1a1a" stroke="#1a1a1a" stroke-width="0.3" textLength="5.0" lengthAdjust="spacingAndGlyphs">C</text>
<line x1="233.05" y1="201.0" x2="233.05" y2="126.2" stroke="#404040" stroke-width="1.3"/>
<line x1="231.05" y1="200.10000000000002" x2="233.05" y2="200.10000000000002" stroke="#404040" stroke-width="1.3"/>
<text x="230.85000000000002" y="202.36800000000002" font-size="6.3" text-anchor="end" font-weight="normal" font-family='"Liberation Sans", sans-serif' fill="#262626" stroke="#262626" stroke-width="0.3" textLength="3.85" lengthAdjust="spacingAndGlyphs">0</text>
<line x1="231.05" y1="181.70000000000002" x2="233.05" y2="181.70000000000002" stroke="#404040" stroke-width="1.3"/>
<text x="230.85000000000002" y="183.96800000000002" font-size="6.3" text-anchor="end" font-weight="normal" font-family='"Liberation Sans", sans-serif' fill="#262626" stroke="#262626" stroke-width="0.3" textLength="11.55" lengthAdjust="spacingAndGlyphs">500</text>
<line x1="231.05" y1="163.3" x2="233.05" y2="163.3" stroke="#404040" stroke-width="1.3"/>
<text x="230.85000000000002" y="165.568" font-size="6.3" text-anchor="end" font-weight="normal" font-family='"Liberation Sans", sans-serif' fill="#262626" stroke="#262626" stroke-width="0.3" textLength="15.4" lengthAdjust="spacingAndGlyphs">1000</text>
<line x1="231.05" y1="144.90000000000003" x2="233.05" y2="144.90000000000003" stroke="#404040" stroke-width="1.3"/>
<text x="230.85000000000002" y="147.16800000000003" font-size="6.3" text-anchor="end" font-weight="normal" font-family='"Liberation Sans", sans-serif' fill="#262626" stroke="#262626" stroke-width="0.3" textLength="15.4" lengthAdjust="spacingAndGlyphs">1500</text>
<line x1="231.05" y1="126.50000000000001" x2="233.05" y2="126.50000000000001" stroke="#404040" stroke-width="1.3"/>
<text x="230.85000000000002" y="128.768" font-size="6.3" text-anchor="end" font-weight="normal" font-family='"Liberation Sans", sans-serif' fill="#262626" stroke="#262626" stroke-width="0.3" textLength="15.4" lengthAdjust="spacingAndGlyphs">2000</text>
<line x1="233.05" y1="200.4" x2="289.1" y2="200.4" stroke="#404040" stroke-width="1.3"/>
<line x1="246.8" y1="200.4" x2="246.8" y2="202.20000000000002" stroke="#404040" stroke-width="1.3"/>
<line x1="275.0" y1="200.4" x2="275.0" y2="202.20000000000002" stroke="#404040" stroke-width="1.3"/>
<line x1="238.95" y1="196.6" x2="238.95" y2="193.9" stroke="#000" stroke-width="1.0"/>
<line x1="237.14999999999998" y1="193.9" x2="240.75" y2="193.9" stroke="#000" stroke-width="1.15"/>
<rect x="236.8" y="196.6" width="4.70" height="3.80" fill="url(#hatch)" stroke="#000" stroke-width="1.05"/>
<path d="M244.40 200.40V198.30Q244.40 195.60 247.10 195.60H247.10Q249.80 195.60 249.80 198.30V200.40Z" fill="#666" stroke="#000" stroke-width="1.3"/>
<path d="M252.00 200.40V199.40Q252.00 196.40 255.00 196.40H255.00Q258.00 196.40 258.00 199.40V200.40Z" fill="#ffffff" stroke="#000" stroke-width="1.3"/>
<line x1="267.70000000000005" y1="177.1" x2="267.70000000000005" y2="171.6" stroke="#000" stroke-width="1.0"/>
<line x1="265.90000000000003" y1="171.6" x2="269.50000000000006" y2="171.6" stroke="#000" stroke-width="1.15"/>
<rect x="265.2" y="177.1" width="5.40" height="23.30" fill="url(#hatch)" stroke="#000" stroke-width="1.05"/>
<line x1="275.15" y1="152.2" x2="275.15" y2="135.7" stroke="#000" stroke-width="1.0"/>
<line x1="273.34999999999997" y1="135.7" x2="276.95" y2="135.7" stroke="#000" stroke-width="1.15"/>
<rect x="272.79999999999995" y="152.2" width="5.10" height="48.20" fill="#828282" stroke="#000" stroke-width="1.05"/>
<path d="M280.30 200.40V200.40Q280.30 197.80 282.90 197.80H283.00Q285.60 197.80 285.60 200.40V200.40Z" fill="#ffffff" stroke="#000" stroke-width="1.2"/>
<path d="M267.90 150.50V156.10M264.90 151.62L270.90 154.98M264.90 154.98L270.90 151.62" stroke="#111" stroke-width="1.0" fill="none"/>
<text x="247.2" y="207.3" font-size="6.9" text-anchor="middle" font-weight="normal" font-family='"Liberation Sans", sans-serif' fill="#262626" stroke="#262626" stroke-width="0.3" textLength="24.6" lengthAdjust="spacingAndGlyphs">Medium</text>
<text x="275.2" y="207.3" font-size="6.6" text-anchor="middle" font-weight="normal" font-family='"Liberation Sans", sans-serif' fill="#262626" stroke="#262626" stroke-width="0.3" textLength="13.8" lengthAdjust="spacingAndGlyphs">OVA</text>
<text x="263.5" y="117.0" font-size="6.6" text-anchor="middle" font-weight="bold" font-family='"Liberation Mono", monospace' fill="#000" stroke="#000" stroke-width="0.32" textLength="16.5" lengthAdjust="spacingAndGlyphs">IL-4</text>
<text x="209.6" y="162.0" font-size="7.5" text-anchor="middle" font-weight="bold" font-family='"Liberation Sans", sans-serif' fill="#000" stroke="#000" stroke-width="0.38" textLength="20.7" lengthAdjust="spacingAndGlyphs" transform="rotate(-90 209.6 162.0)">pg/ml</text>
<line x1="329.9" y1="201.0" x2="329.9" y2="126.2" stroke="#404040" stroke-width="1.3"/>
<line x1="327.9" y1="200.10000000000002" x2="329.9" y2="200.10000000000002" stroke="#404040" stroke-width="1.3"/>
<text x="327.7" y="202.36800000000002" font-size="6.3" text-anchor="end" font-weight="normal" font-family='"Liberation Sans", sans-serif' fill="#262626" stroke="#262626" stroke-width="0.3" textLength="3.85" lengthAdjust="spacingAndGlyphs">0</text>
<line x1="327.9" y1="181.70000000000002" x2="329.9" y2="181.70000000000002" stroke="#404040" stroke-width="1.3"/>
<text x="327.7" y="183.96800000000002" font-size="6.3" text-anchor="end" font-weight="normal" font-family='"Liberation Sans", sans-serif' fill="#262626" stroke="#262626" stroke-width="0.3" textLength="15.4" lengthAdjust="spacingAndGlyphs">2000</text>
<line x1="327.9" y1="163.3" x2="329.9" y2="163.3" stroke="#404040" stroke-width="1.3"/>
<text x="327.7" y="165.568" font-size="6.3" text-anchor="end" font-weight="normal" font-family='"Liberation Sans", sans-serif' fill="#262626" stroke="#262626" stroke-width="0.3" textLength="15.4" lengthAdjust="spacingAndGlyphs">4000</text>
<line x1="327.9" y1="144.90000000000003" x2="329.9" y2="144.90000000000003" stroke="#404040" stroke-width="1.3"/>
<text x="327.7" y="147.16800000000003" font-size="6.3" text-anchor="end" font-weight="normal" font-family='"Liberation Sans", sans-serif' fill="#262626" stroke="#262626" stroke-width="0.3" textLength="15.4" lengthAdjust="spacingAndGlyphs">6000</text>
<line x1="327.9" y1="126.50000000000001" x2="329.9" y2="126.50000000000001" stroke="#404040" stroke-width="1.3"/>
<text x="327.7" y="128.768" font-size="6.3" text-anchor="end" font-weight="normal" font-family='"Liberation Sans", sans-serif' fill="#262626" stroke="#262626" stroke-width="0.3" textLength="15.4" lengthAdjust="spacingAndGlyphs">8000</text>
<line x1="329.9" y1="200.4" x2="386.3" y2="200.4" stroke="#404040" stroke-width="1.3"/>
<line x1="344.2" y1="200.4" x2="344.2" y2="202.20000000000002" stroke="#404040" stroke-width="1.3"/>
<line x1="371.5" y1="200.4" x2="371.5" y2="202.20000000000002" stroke="#404040" stroke-width="1.3"/>
<path d="M333.20 200.40V200.20Q333.20 197.30 336.10 197.30H336.10Q339.00 197.30 339.00 200.20V200.40Z" fill="#666" stroke="#000" stroke-width="1.3"/>
<path d="M340.80 200.40V199.60Q340.80 196.70 343.70 196.70H343.70Q346.60 196.70 346.60 199.60V200.40Z" fill="#666" stroke="#000" stroke-width="1.3"/>
<line x1="349.5" y1="200.1" x2="354" y2="200.1" stroke="#111" stroke-width="1.2"/>
<line x1="364.6" y1="176.5" x2="364.6" y2="171.6" stroke="#000" stroke-width="1.0"/>
<line x1="362.8" y1="171.6" x2="366.40000000000003" y2="171.6" stroke="#000" stroke-width="1.15"/>
<rect x="361.59999999999997" y="176.5" width="6.40" height="23.90" fill="url(#hatch)" stroke="#000" stroke-width="1.05"/>
<line x1="372.1" y1="154.0" x2="372.1" y2="143.0" stroke="#000" stroke-width="1.0"/>
<line x1="370.3" y1="143.0" x2="373.90000000000003" y2="143.0" stroke="#000" stroke-width="1.15"/>
<rect x="369.79999999999995" y="154.0" width="5.00" height="46.40" fill="#828282" stroke="#000" stroke-width="1.05"/>
<path d="M377.00 200.40V200.40Q377.00 198.60 378.80 198.60H380.70Q382.50 198.60 382.50 200.40V200.40Z" fill="#ffffff" stroke="#000" stroke-width="1.1"/>
<path d="M365.40 152.50V158.10M362.40 153.62L368.40 156.98M362.40 156.98L368.40 153.62" stroke="#111" stroke-width="1.0" fill="none"/>
<text x="344.2" y="207.3" font-size="6.9" text-anchor="middle" font-weight="normal" font-family='"Liberation Sans", sans-serif' fill="#262626" stroke="#262626" stroke-width="0.3" textLength="24.5" lengthAdjust="spacingAndGlyphs">Medium</text>
<text x="371.5" y="207.3" font-size="6.6" text-anchor="middle" font-weight="normal" font-family='"Liberation Sans", sans-serif' fill="#262626" stroke="#262626" stroke-width="0.3" textLength="13.4" lengthAdjust="spacingAndGlyphs">OVA</text>
<text x="360.8" y="117.0" font-size="6.6" text-anchor="middle" font-weight="bold" font-family='"Liberation Mono", monospace' fill="#000" stroke="#000" stroke-width="0.32" textLength="16.5" lengthAdjust="spacingAndGlyphs">IL-5</text>
<text x="307.2" y="162.0" font-size="7.5" text-anchor="middle" font-weight="bold" font-family='"Liberation Sans", sans-serif' fill="#000" stroke="#000" stroke-width="0.38" textLength="20.7" lengthAdjust="spacingAndGlyphs" transform="rotate(-90 307.2 162.0)">pg/ml</text>
<line x1="427.2" y1="200.7" x2="427.2" y2="126.2" stroke="#404040" stroke-width="1.3"/>
<line x1="425.2" y1="199.8" x2="427.2" y2="199.8" stroke="#404040" stroke-width="1.3"/>
<text x="425.0" y="202.068" font-size="6.3" text-anchor="end" font-weight="normal" font-family='"Liberation Sans", sans-serif' fill="#262626" stroke="#262626" stroke-width="0.3" textLength="3.85" lengthAdjust="spacingAndGlyphs">0</text>
<line x1="425.2" y1="185.20000000000002" x2="427.2" y2="185.20000000000002" stroke="#404040" stroke-width="1.3"/>
<text x="425.0" y="187.46800000000002" font-size="6.3" text-anchor="end" font-weight="normal" font-family='"Liberation Sans", sans-serif' fill="#262626" stroke="#262626" stroke-width="0.3" textLength="11.55" lengthAdjust="spacingAndGlyphs">500</text>
<line x1="425.2" y1="170.60000000000002" x2="427.2" y2="170.60000000000002" stroke="#404040" stroke-width="1.3"/>
<text x="425.0" y="172.86800000000002" font-size="6.3" text-anchor="end" font-weight="normal" font-family='"Liberation Sans", sans-serif' fill="#262626" stroke="#262626" stroke-width="0.3" textLength="15.4" lengthAdjust="spacingAndGlyphs">1000</text>
<line x1="425.2" y1="156.0" x2="427.2" y2="156.0" stroke="#404040" stroke-width="1.3"/>
<text x="425.0" y="158.268" font-size="6.3" text-anchor="end" font-weight="normal" font-family='"Liberation Sans", sans-serif' fill="#262626" stroke="#262626" stroke-width="0.3" textLength="15.4" lengthAdjust="spacingAndGlyphs">1500</text>
<line x1="425.2" y1="141.4" x2="427.2" y2="141.4" stroke="#404040" stroke-width="1.3"/>
<text x="425.0" y="143.668" font-size="6.3" text-anchor="end" font-weight="normal" font-family='"Liberation Sans", sans-serif' fill="#262626" stroke="#262626" stroke-width="0.3" textLength="15.4" lengthAdjust="spacingAndGlyphs">2000</text>
<line x1="425.2" y1="126.8" x2="427.2" y2="126.8" stroke="#404040" stroke-width="1.3"/>
<text x="425.0" y="129.06799999999998" font-size="6.3" text-anchor="end" font-weight="normal" font-family='"Liberation Sans", sans-serif' fill="#262626" stroke="#262626" stroke-width="0.3" textLength="15.4" lengthAdjust="spacingAndGlyphs">2500</text>
<line x1="427.2" y1="200.1" x2="483.2" y2="200.1" stroke="#404040" stroke-width="1.3"/>
<line x1="441.4" y1="200.1" x2="441.4" y2="201.9" stroke="#404040" stroke-width="1.3"/>
<line x1="469.4" y1="200.1" x2="469.4" y2="201.9" stroke="#404040" stroke-width="1.3"/>
<rect x="431.29999999999995" y="191.2" width="5.00" height="8.90" fill="url(#hatch)" stroke="#000" stroke-width="1.05"/>
<rect x="439.09999999999997" y="191.2" width="5.10" height="8.90" fill="#828282" stroke="#000" stroke-width="1.05"/>
<rect x="446.79999999999995" y="191.2" width="5.10" height="8.90" fill="#ffffff" stroke="#000" stroke-width="1.05"/>
<line x1="461.85" y1="188.3" x2="461.85" y2="185.5" stroke="#000" stroke-width="1.0"/>
<line x1="460.25" y1="185.5" x2="463.45000000000005" y2="185.5" stroke="#000" stroke-width="1.15"/>
<rect x="459.59999999999997" y="188.3" width="4.90" height="11.80" fill="url(#hatch)" stroke="#000" stroke-width="1.05"/>
<line x1="469.45" y1="158.2" x2="469.45" y2="139.2" stroke="#000" stroke-width="1.0"/>
<line x1="467.65" y1="139.2" x2="471.25" y2="139.2" stroke="#000" stroke-width="1.15"/>
<rect x="467.09999999999997" y="158.2" width="5.10" height="41.90" fill="#828282" stroke="#000" stroke-width="1.05"/>
<rect x="474.79999999999995" y="191.2" width="4.70" height="8.90" fill="#ffffff" stroke="#000" stroke-width="1.05"/>
<path d="M464.00 155.00V160.00M461.75 156.00L466.25 159.00M461.75 159.00L466.25 156.00" stroke="#111" stroke-width="1.0" fill="none"/>
<text x="441.5" y="207.3" font-size="6.9" text-anchor="middle" font-weight="normal" font-family='"Liberation Sans", sans-serif' fill="#262626" stroke="#262626" stroke-width="0.3" textLength="24.9" lengthAdjust="spacingAndGlyphs">Medium</text>
<text x="469.4" y="207.3" font-size="6.6" text-anchor="middle" font-weight="normal" font-family='"Liberation Sans", sans-serif' fill="#262626" stroke="#262626" stroke-width="0.3" textLength="13.7" lengthAdjust="spacingAndGlyphs">OVA</text>
<text x="457.6" y="117.0" font-size="6.6" text-anchor="middle" font-weight="bold" font-family='"Liberation Mono", monospace' fill="#000" stroke="#000" stroke-width="0.32" textLength="20.7" lengthAdjust="spacingAndGlyphs">IL-13</text>
<text x="406.0" y="162.0" font-size="7.5" text-anchor="middle" font-weight="bold" font-family='"Liberation Sans", sans-serif' fill="#000" stroke="#000" stroke-width="0.38" textLength="20.7" lengthAdjust="spacingAndGlyphs" transform="rotate(-90 406.0 162.0)">pg/ml</text>
<rect x="486.60" y="126.80" width="7.20" height="3.8" rx="0.6" fill="url(#hatchL)" stroke="#000" stroke-width="1.25"/>
<text x="498.7" y="131.35" font-size="7.5" text-anchor="start" font-weight="normal" font-family='"Liberation Sans", sans-serif' fill="#1a1a1a" stroke="#1a1a1a" stroke-width="0.3" textLength="16.6" lengthAdjust="spacingAndGlyphs">EPIT</text>
<rect x="486.60" y="135.95" width="7.20" height="3.8" rx="0.6" fill="#828282" stroke="#000" stroke-width="1.25"/>
<text x="498.7" y="140.5" font-size="7.5" text-anchor="start" font-weight="normal" font-family='"Liberation Sans", sans-serif' fill="#1a1a1a" stroke="#1a1a1a" stroke-width="0.3" textLength="20.8" lengthAdjust="spacingAndGlyphs">Sham</text>
<rect x="486.60" y="145.10" width="7.20" height="3.8" rx="0.6" fill="#ffffff" stroke="#000" stroke-width="1.25"/>
<text x="498.7" y="149.65" font-size="7.5" text-anchor="start" font-weight="normal" font-family='"Liberation Sans", sans-serif' fill="#1a1a1a" stroke="#1a1a1a" stroke-width="0.3" textLength="5.0" lengthAdjust="spacingAndGlyphs">C</text>
<line x1="34.3" y1="319.70000000000005" x2="34.3" y2="243.8" stroke="#404040" stroke-width="1.3"/>
<line x1="32.3" y1="319.3" x2="34.3" y2="319.3" stroke="#404040" stroke-width="1.3"/>
<text x="32.099999999999994" y="321.676" font-size="6.6" text-anchor="end" font-weight="normal" font-family='"Liberation Sans", sans-serif' fill="#262626" stroke="#262626" stroke-width="0.3" textLength="3.85" lengthAdjust="spacingAndGlyphs">0</text>
<line x1="32.3" y1="294.2" x2="34.3" y2="294.2" stroke="#404040" stroke-width="1.3"/>
<text x="32.099999999999994" y="296.57599999999996" font-size="6.6" text-anchor="end" font-weight="normal" font-family='"Liberation Sans", sans-serif' fill="#262626" stroke="#262626" stroke-width="0.3" textLength="9.4" lengthAdjust="spacingAndGlyphs">0.5</text>
<line x1="32.3" y1="269.1" x2="34.3" y2="269.1" stroke="#404040" stroke-width="1.3"/>
<text x="32.099999999999994" y="271.476" font-size="6.6" text-anchor="end" font-weight="normal" font-family='"Liberation Sans", sans-serif' fill="#262626" stroke="#262626" stroke-width="0.3" textLength="9.4" lengthAdjust="spacingAndGlyphs">1.0</text>
<line x1="32.3" y1="244.0" x2="34.3" y2="244.0" stroke="#404040" stroke-width="1.3"/>
<text x="32.099999999999994" y="246.376" font-size="6.6" text-anchor="end" font-weight="normal" font-family='"Liberation Sans", sans-serif' fill="#262626" stroke="#262626" stroke-width="0.3" textLength="9.4" lengthAdjust="spacingAndGlyphs">1.5</text>
<line x1="34.3" y1="319.1" x2="146.2" y2="319.1" stroke="#404040" stroke-width="1.3"/>
<line x1="53.5" y1="319.1" x2="53.5" y2="320.90000000000003" stroke="#404040" stroke-width="1.3"/>
<line x1="90.8" y1="319.1" x2="90.8" y2="320.90000000000003" stroke="#404040" stroke-width="1.3"/>
<line x1="128.2" y1="319.1" x2="128.2" y2="320.90000000000003" stroke="#404040" stroke-width="1.3"/>
<line x1="53.55" y1="272.5" x2="53.55" y2="268.2" stroke="#000" stroke-width="1.0"/>
<line x1="46.55" y1="268.2" x2="60.55" y2="268.2" stroke="#000" stroke-width="1.15"/>
<rect x="41.4" y="272.5" width="24.70" height="46.60" fill="url(#hatch)" stroke="#000" stroke-width="1.05"/>
<line x1="90.85" y1="294.2" x2="90.85" y2="289.6" stroke="#000" stroke-width="1.0"/>
<line x1="83.64999999999999" y1="289.6" x2="98.05" y2="289.6" stroke="#000" stroke-width="1.15"/>
<rect x="78.60000000000001" y="294.2" width="24.90" height="24.90" fill="#828282" stroke="#000" stroke-width="1.05"/>
<line x1="128.25" y1="297.5" x2="128.25" y2="294.5" stroke="#000" stroke-width="1.0"/>
<line x1="121.05" y1="294.5" x2="135.45" y2="294.5" stroke="#000" stroke-width="1.15"/>
<rect x="115.80000000000001" y="297.5" width="25.30" height="21.60" fill="#ffffff" stroke="#000" stroke-width="1.05"/>
<text x="53.3" y="326.3" font-size="6.6" text-anchor="middle" font-weight="normal" font-family='"Liberation Sans", sans-serif' fill="#262626" stroke="#262626" stroke-width="0.3" textLength="15.0" lengthAdjust="spacingAndGlyphs">EPIT</text>
<text x="91.3" y="326.3" font-size="7.0" text-anchor="middle" font-weight="normal" font-family='"Liberation Sans", sans-serif' fill="#262626" stroke="#262626" stroke-width="0.3" textLength="19.7" lengthAdjust="spacingAndGlyphs">Sham</text>
<text x="127.5" y="326.3" font-size="7.0" text-anchor="middle" font-weight="normal" font-family='"Liberation Sans", sans-serif' fill="#262626" stroke="#262626" stroke-width="0.3">C</text>
<text x="93.4" y="235.1" font-size="7.3" text-anchor="middle" font-weight="bold" font-family='"Liberation Sans", sans-serif' fill="#000" stroke="#000" stroke-width="0.22" textLength="66.8" lengthAdjust="spacingAndGlyphs">Regulatory T Cell</text>
<text x="22.3" y="280.3" font-size="7.9" text-anchor="middle" font-weight="bold" font-family='"Liberation Sans", sans-serif' fill="#000" stroke="#000" stroke-width="0.38" textLength="86.6" lengthAdjust="spacingAndGlyphs" transform="rotate(-90 22.3 280.3)">CD25+FoxP3+CD4+ (%)</text>
<line x1="54.3" y1="249.6" x2="129.0" y2="249.6" stroke="#000" stroke-width="1.05"/>
<path d="M89.95 243.10V247.70M87.50 244.02L92.40 246.78M87.50 246.78L92.40 244.02M95.75 243.10V247.70M93.30 244.02L98.20 246.78M93.30 246.78L98.20 244.02" stroke="#111" stroke-width="1.0" fill="none"/>
<line x1="54.3" y1="260.2" x2="93.6" y2="260.2" stroke="#000" stroke-width="1.05"/>
<path d="M75.35 254.20V259.20M72.10 255.20L78.60 258.20M72.10 258.20L78.60 255.20" stroke="#111" stroke-width="1.0" fill="none"/>
<rect x="151.80" y="242.60" width="7.40" height="3.8" rx="0.6" fill="url(#hatchL)" stroke="#000" stroke-width="1.25"/>
<text x="163.8" y="247.15" font-size="7.5" text-anchor="start" font-weight="normal" font-family='"Liberation Sans", sans-serif' fill="#1a1a1a" stroke="#1a1a1a" stroke-width="0.3" textLength="16.6" lengthAdjust="spacingAndGlyphs">EPIT</text>
<rect x="151.80" y="252.02" width="7.40" height="3.8" rx="0.6" fill="#828282" stroke="#000" stroke-width="1.25"/>
<text x="163.8" y="256.57" font-size="7.5" text-anchor="start" font-weight="normal" font-family='"Liberation Sans", sans-serif' fill="#1a1a1a" stroke="#1a1a1a" stroke-width="0.3" textLength="20.8" lengthAdjust="spacingAndGlyphs">Sham</text>
<rect x="151.80" y="261.44" width="7.40" height="3.8" rx="0.6" fill="#ffffff" stroke="#000" stroke-width="1.25"/>
<text x="163.8" y="265.98999999999995" font-size="7.5" text-anchor="start" font-weight="normal" font-family='"Liberation Sans", sans-serif' fill="#1a1a1a" stroke="#1a1a1a" stroke-width="0.3" textLength="5.0" lengthAdjust="spacingAndGlyphs">C</text>
<line x1="233.0" y1="319.70000000000005" x2="233.0" y2="244.10000000000002" stroke="#404040" stroke-width="1.3"/>
<line x1="231.0" y1="318.90000000000003" x2="233.0" y2="318.90000000000003" stroke="#404040" stroke-width="1.3"/>
<text x="230.8" y="321.168" font-size="6.3" text-anchor="end" font-weight="normal" font-family='"Liberation Sans", sans-serif' fill="#262626" stroke="#262626" stroke-width="0.3" textLength="3.85" lengthAdjust="spacingAndGlyphs">0</text>
<line x1="231.0" y1="304.00000000000006" x2="233.0" y2="304.00000000000006" stroke="#404040" stroke-width="1.3"/>
<text x="230.8" y="306.26800000000003" font-size="6.3" text-anchor="end" font-weight="normal" font-family='"Liberation Sans", sans-serif' fill="#262626" stroke="#262626" stroke-width="0.3" textLength="11.55" lengthAdjust="spacingAndGlyphs">200</text>
<line x1="231.0" y1="289.1" x2="233.0" y2="289.1" stroke="#404040" stroke-width="1.3"/>
<text x="230.8" y="291.368" font-size="6.3" text-anchor="end" font-weight="normal" font-family='"Liberation Sans", sans-serif' fill="#262626" stroke="#262626" stroke-width="0.3" textLength="11.55" lengthAdjust="spacingAndGlyphs">400</text>
<line x1="231.0" y1="274.20000000000005" x2="233.0" y2="274.20000000000005" stroke="#404040" stroke-width="1.3"/>
<text x="230.8" y="276.468" font-size="6.3" text-anchor="end" font-weight="normal" font-family='"Liberation Sans", sans-serif' fill="#262626" stroke="#262626" stroke-width="0.3" textLength="11.55" lengthAdjust="spacingAndGlyphs">600</text>
<line x1="231.0" y1="259.3" x2="233.0" y2="259.3" stroke="#404040" stroke-width="1.3"/>
<text x="230.8" y="261.568" font-size="6.3" text-anchor="end" font-weight="normal" font-family='"Liberation Sans", sans-serif' fill="#262626" stroke="#262626" stroke-width="0.3" textLength="11.55" lengthAdjust="spacingAndGlyphs">800</text>
<line x1="231.0" y1="244.40000000000003" x2="233.0" y2="244.40000000000003" stroke="#404040" stroke-width="1.3"/>
<text x="230.8" y="246.66800000000003" font-size="6.3" text-anchor="end" font-weight="normal" font-family='"Liberation Sans", sans-serif' fill="#262626" stroke="#262626" stroke-width="0.3" textLength="15.4" lengthAdjust="spacingAndGlyphs">1000</text>
<line x1="233.0" y1="319.1" x2="288.5" y2="319.1" stroke="#404040" stroke-width="1.3"/>
<line x1="246.8" y1="319.1" x2="246.8" y2="320.90000000000003" stroke="#404040" stroke-width="1.3"/>
<line x1="274.4" y1="319.1" x2="274.4" y2="320.90000000000003" stroke="#404040" stroke-width="1.3"/>
<path d="M236.40 319.10V319.10Q236.40 317.30 238.20 317.30H240.00Q241.80 317.30 241.80 319.10V319.10Z" fill="#666" stroke="#000" stroke-width="1.3"/>
<path d="M244.20 319.10V319.10Q244.20 317.30 246.00 317.30H247.80Q249.60 317.30 249.60 319.10V319.10Z" fill="#666" stroke="#000" stroke-width="1.3"/>
<path d="M252.00 319.10V319.10Q252.00 317.30 253.80 317.30H255.60Q257.40 317.30 257.40 319.10V319.10Z" fill="#666" stroke="#000" stroke-width="1.3"/>
<line x1="267.85" y1="302.8" x2="267.85" y2="296.9" stroke="#000" stroke-width="1.0"/>
<line x1="266.05" y1="296.9" x2="269.65000000000003" y2="296.9" stroke="#000" stroke-width="1.15"/>
<rect x="265.5" y="302.8" width="5.10" height="16.30" fill="url(#hatch)" stroke="#000" stroke-width="1.05"/>
<line x1="275.15" y1="268.5" x2="275.15" y2="249.3" stroke="#000" stroke-width="1.0"/>
<line x1="273.34999999999997" y1="249.3" x2="276.95" y2="249.3" stroke="#000" stroke-width="1.15"/>
<rect x="272.79999999999995" y="268.5" width="5.10" height="50.60" fill="#828282" stroke="#000" stroke-width="1.05"/>
<path d="M280.40 319.10V319.10Q280.40 317.40 282.10 317.40H283.50Q285.20 317.40 285.20 319.10V319.10Z" fill="#ffffff" stroke="#000" stroke-width="1.2"/>
<path d="M268.40 265.20V270.80M265.40 266.32L271.40 269.68M265.40 269.68L271.40 266.32" stroke="#111" stroke-width="1.0" fill="none"/>
<text x="247.0" y="326.5" font-size="6.9" text-anchor="middle" font-weight="normal" font-family='"Liberation Sans", sans-serif' fill="#262626" stroke="#262626" stroke-width="0.3" textLength="24.7" lengthAdjust="spacingAndGlyphs">Medium</text>
<text x="274.4" y="326.5" font-size="6.6" text-anchor="middle" font-weight="normal" font-family='"Liberation Sans", sans-serif' fill="#262626" stroke="#262626" stroke-width="0.3" textLength="13.7" lengthAdjust="spacingAndGlyphs">OVA</text>
<text x="263.4" y="236.3" font-size="6.6" text-anchor="middle" font-weight="bold" font-family='"Liberation Mono", monospace' fill="#000" stroke="#000" stroke-width="0.32" textLength="21.0" lengthAdjust="spacingAndGlyphs">IL-1O</text>
<text x="214.3" y="281.0" font-size="7.5" text-anchor="middle" font-weight="bold" font-family='"Liberation Sans", sans-serif' fill="#000" stroke="#000" stroke-width="0.38" textLength="20.1" lengthAdjust="spacingAndGlyphs" transform="rotate(-90 214.3 281.0)">pg/ml</text>
<line x1="330.0" y1="319.55" x2="330.0" y2="243.2" stroke="#404040" stroke-width="1.3"/>
<line x1="328.0" y1="319.0" x2="330.0" y2="319.0" stroke="#404040" stroke-width="1.3"/>
<text x="327.8" y="321.268" font-size="6.3" text-anchor="end" font-weight="normal" font-family='"Liberation Sans", sans-serif' fill="#262626" stroke="#262626" stroke-width="0.3" textLength="3.85" lengthAdjust="spacingAndGlyphs">0</text>
<line x1="328.0" y1="300.05" x2="330.0" y2="300.05" stroke="#404040" stroke-width="1.3"/>
<text x="327.8" y="302.318" font-size="6.3" text-anchor="end" font-weight="normal" font-family='"Liberation Sans", sans-serif' fill="#262626" stroke="#262626" stroke-width="0.3" textLength="11.55" lengthAdjust="spacingAndGlyphs">100</text>
<line x1="328.0" y1="281.1" x2="330.0" y2="281.1" stroke="#404040" stroke-width="1.3"/>
<text x="327.8" y="283.368" font-size="6.3" text-anchor="end" font-weight="normal" font-family='"Liberation Sans", sans-serif' fill="#262626" stroke="#262626" stroke-width="0.3" textLength="11.55" lengthAdjust="spacingAndGlyphs">200</text>
<line x1="328.0" y1="262.15" x2="330.0" y2="262.15" stroke="#404040" stroke-width="1.3"/>
<text x="327.8" y="264.41799999999995" font-size="6.3" text-anchor="end" font-weight="normal" font-family='"Liberation Sans", sans-serif' fill="#262626" stroke="#262626" stroke-width="0.3" textLength="11.55" lengthAdjust="spacingAndGlyphs">300</text>
<line x1="328.0" y1="243.2" x2="330.0" y2="243.2" stroke="#404040" stroke-width="1.3"/>
<text x="327.8" y="245.468" font-size="6.3" text-anchor="end" font-weight="normal" font-family='"Liberation Sans", sans-serif' fill="#262626" stroke="#262626" stroke-width="0.3" textLength="11.55" lengthAdjust="spacingAndGlyphs">400</text>
<line x1="330.0" y1="318.95" x2="386.3" y2="318.95" stroke="#404040" stroke-width="1.3"/>
<line x1="344.2" y1="318.95" x2="344.2" y2="320.75" stroke="#404040" stroke-width="1.3"/>
<line x1="372.0" y1="318.95" x2="372.0" y2="320.75" stroke="#404040" stroke-width="1.3"/>
<line x1="336.25" y1="309.7" x2="336.25" y2="306.8" stroke="#000" stroke-width="1.0"/>
<line x1="334.45" y1="306.8" x2="338.05" y2="306.8" stroke="#000" stroke-width="1.15"/>
<rect x="333.59999999999997" y="309.7" width="5.70" height="9.25" fill="url(#hatch)" stroke="#000" stroke-width="1.05"/>
<rect x="341.9" y="312.8" width="5.10" height="6.15" fill="#828282" stroke="#000" stroke-width="1.05"/>
<rect x="349.5" y="311.9" width="4.80" height="7.05" fill="#ffffff" stroke="#000" stroke-width="1.05"/>
<line x1="364.29999999999995" y1="303.1" x2="364.29999999999995" y2="296.9" stroke="#000" stroke-width="1.0"/>
<line x1="362.49999999999994" y1="296.9" x2="366.09999999999997" y2="296.9" stroke="#000" stroke-width="1.15"/>
<rect x="361.59999999999997" y="303.1" width="5.80" height="15.85" fill="url(#hatch)" stroke="#000" stroke-width="1.05"/>
<line x1="372.05" y1="275.0" x2="372.05" y2="258.5" stroke="#000" stroke-width="1.0"/>
<line x1="370.25" y1="258.5" x2="373.85" y2="258.5" stroke="#000" stroke-width="1.15"/>
<rect x="369.7" y="275.0" width="5.10" height="43.95" fill="#828282" stroke="#000" stroke-width="1.05"/>
<line x1="379.85" y1="310.4" x2="379.85" y2="307.3" stroke="#000" stroke-width="1.0"/>
<line x1="378.05" y1="307.3" x2="381.65000000000003" y2="307.3" stroke="#000" stroke-width="1.15"/>
<rect x="377.5" y="310.4" width="5.10" height="8.55" fill="#ffffff" stroke="#000" stroke-width="1.05"/>
<path d="M367.50 269.40V275.00M364.50 270.52L370.50 273.88M364.50 273.88L370.50 270.52" stroke="#111" stroke-width="1.0" fill="none"/>
<text x="344.2" y="326.5" font-size="6.9" text-anchor="middle" font-weight="normal" font-family='"Liberation Sans", sans-serif' fill="#262626" stroke="#262626" stroke-width="0.3" textLength="24.5" lengthAdjust="spacingAndGlyphs">Medium</text>
<text x="372.0" y="326.5" font-size="6.6" text-anchor="middle" font-weight="normal" font-family='"Liberation Sans", sans-serif' fill="#262626" stroke="#262626" stroke-width="0.3" textLength="14.0" lengthAdjust="spacingAndGlyphs">OVA</text>
<text x="359.7" y="236.3" font-size="6.6" text-anchor="middle" font-weight="bold" font-family='"Liberation Mono", monospace' fill="#000" stroke="#000" stroke-width="0.32" textLength="19.2" lengthAdjust="spacingAndGlyphs">IFNγ</text>
<text x="312.8" y="280.8" font-size="7.5" text-anchor="middle" font-weight="bold" font-family='"Liberation Sans", sans-serif' fill="#000" stroke="#000" stroke-width="0.38" textLength="19.6" lengthAdjust="spacingAndGlyphs" transform="rotate(-90 312.8 280.8)">pg/ml</text>
<line x1="427.4" y1="319.8" x2="427.4" y2="244.0" stroke="#404040" stroke-width="1.3"/>
<line x1="425.4" y1="319.4" x2="427.4" y2="319.4" stroke="#404040" stroke-width="1.3"/>
<text x="425.2" y="321.66799999999995" font-size="6.3" text-anchor="end" font-weight="normal" font-family='"Liberation Sans", sans-serif' fill="#262626" stroke="#262626" stroke-width="0.3" textLength="3.85" lengthAdjust="spacingAndGlyphs">0</text>
<line x1="425.4" y1="294.34999999999997" x2="427.4" y2="294.34999999999997" stroke="#404040" stroke-width="1.3"/>
<text x="425.2" y="296.61799999999994" font-size="6.3" text-anchor="end" font-weight="normal" font-family='"Liberation Sans", sans-serif' fill="#262626" stroke="#262626" stroke-width="0.3" textLength="7.7" lengthAdjust="spacingAndGlyphs">50</text>
<line x1="425.4" y1="269.29999999999995" x2="427.4" y2="269.29999999999995" stroke="#404040" stroke-width="1.3"/>
<text x="425.2" y="271.5679999999999" font-size="6.3" text-anchor="end" font-weight="normal" font-family='"Liberation Sans", sans-serif' fill="#262626" stroke="#262626" stroke-width="0.3" textLength="11.55" lengthAdjust="spacingAndGlyphs">100</text>
<line x1="425.4" y1="244.24999999999997" x2="427.4" y2="244.24999999999997" stroke="#404040" stroke-width="1.3"/>
<text x="425.2" y="246.51799999999997" font-size="6.3" text-anchor="end" font-weight="normal" font-family='"Liberation Sans", sans-serif' fill="#262626" stroke="#262626" stroke-width="0.3" textLength="11.55" lengthAdjust="spacingAndGlyphs">150</text>
<line x1="427.4" y1="319.2" x2="482.5" y2="319.2" stroke="#404040" stroke-width="1.3"/>
<line x1="441.0" y1="319.2" x2="441.0" y2="321.0" stroke="#404040" stroke-width="1.3"/>
<line x1="468.0" y1="319.2" x2="468.0" y2="321.0" stroke="#404040" stroke-width="1.3"/>
<path d="M431.00 319.20V307.22Q431.00 305.60 432.62 305.60H434.78Q436.40 305.60 436.40 307.22V319.20Z" fill="url(#hatch)" stroke="#000" stroke-width="1.2"/>
<path d="M439.30 319.20V308.46Q439.30 306.90 440.86 306.90H442.94Q444.50 306.90 444.50 308.46V319.20Z" fill="#666" stroke="#000" stroke-width="1.2"/>
<rect x="446.9" y="307.9" width="5.10" height="11.30" fill="#ffffff" stroke="#000" stroke-width="1.05"/>
<line x1="462.05" y1="294.2" x2="462.05" y2="289.0" stroke="#000" stroke-width="1.0"/>
<line x1="460.25" y1="289.0" x2="463.85" y2="289.0" stroke="#000" stroke-width="1.15"/>
<rect x="459.7" y="294.2" width="5.10" height="25.00" fill="url(#hatch)" stroke="#000" stroke-width="1.05"/>
<line x1="469.95" y1="278.1" x2="469.95" y2="265.6" stroke="#000" stroke-width="1.0"/>
<line x1="468.15" y1="265.6" x2="471.75" y2="265.6" stroke="#000" stroke-width="1.15"/>
<rect x="467.59999999999997" y="278.1" width="5.10" height="41.10" fill="#828282" stroke="#000" stroke-width="1.05"/>
<rect x="474.9" y="308.2" width="5.10" height="11.00" fill="#ffffff" stroke="#000" stroke-width="1.05"/>
<text x="441.0" y="326.5" font-size="6.9" text-anchor="middle" font-weight="normal" font-family='"Liberation Sans", sans-serif' fill="#262626" stroke="#262626" stroke-width="0.3" textLength="25.6" lengthAdjust="spacingAndGlyphs">Medium</text>
<text x="468.0" y="326.5" font-size="6.6" text-anchor="middle" font-weight="normal" font-family='"Liberation Sans", sans-serif' fill="#262626" stroke="#262626" stroke-width="0.3" textLength="13.7" lengthAdjust="spacingAndGlyphs">OVA</text>
<text x="457.4" y="236.3" font-size="6.6" text-anchor="middle" font-weight="bold" font-family='"Liberation Mono", monospace' fill="#000" stroke="#000" stroke-width="0.32" textLength="34.8" lengthAdjust="spacingAndGlyphs">IL-12p7O</text>
<text x="409.0" y="281.1" font-size="7.5" text-anchor="middle" font-weight="bold" font-family='"Liberation Sans", sans-serif' fill="#000" stroke="#000" stroke-width="0.38" textLength="19.9" lengthAdjust="spacingAndGlyphs" transform="rotate(-90 409.0 281.1)">pg/ml</text>
<rect x="486.60" y="242.90" width="7.50" height="3.8" rx="0.6" fill="url(#hatchL)" stroke="#000" stroke-width="1.25"/>
<text x="498.7" y="247.45000000000002" font-size="7.5" text-anchor="start" font-weight="normal" font-family='"Liberation Sans", sans-serif' fill="#1a1a1a" stroke="#1a1a1a" stroke-width="0.3" textLength="16.6" lengthAdjust="spacingAndGlyphs">EPIT</text>
<rect x="486.60" y="252.05" width="7.50" height="3.8" rx="0.6" fill="#828282" stroke="#000" stroke-width="1.25"/>
<text x="498.7" y="256.6" font-size="7.5" text-anchor="start" font-weight="normal" font-family='"Liberation Sans", sans-serif' fill="#1a1a1a" stroke="#1a1a1a" stroke-width="0.3" textLength="20.8" lengthAdjust="spacingAndGlyphs">Sham</text>
<rect x="486.60" y="261.20" width="7.50" height="3.8" rx="0.6" fill="#ffffff" stroke="#000" stroke-width="1.25"/>
<text x="498.7" y="265.75" font-size="7.5" text-anchor="start" font-weight="normal" font-family='"Liberation Sans", sans-serif' fill="#1a1a1a" stroke="#1a1a1a" stroke-width="0.3" textLength="5.0" lengthAdjust="spacingAndGlyphs">C</text>
</g>
</svg>
</body></html>
